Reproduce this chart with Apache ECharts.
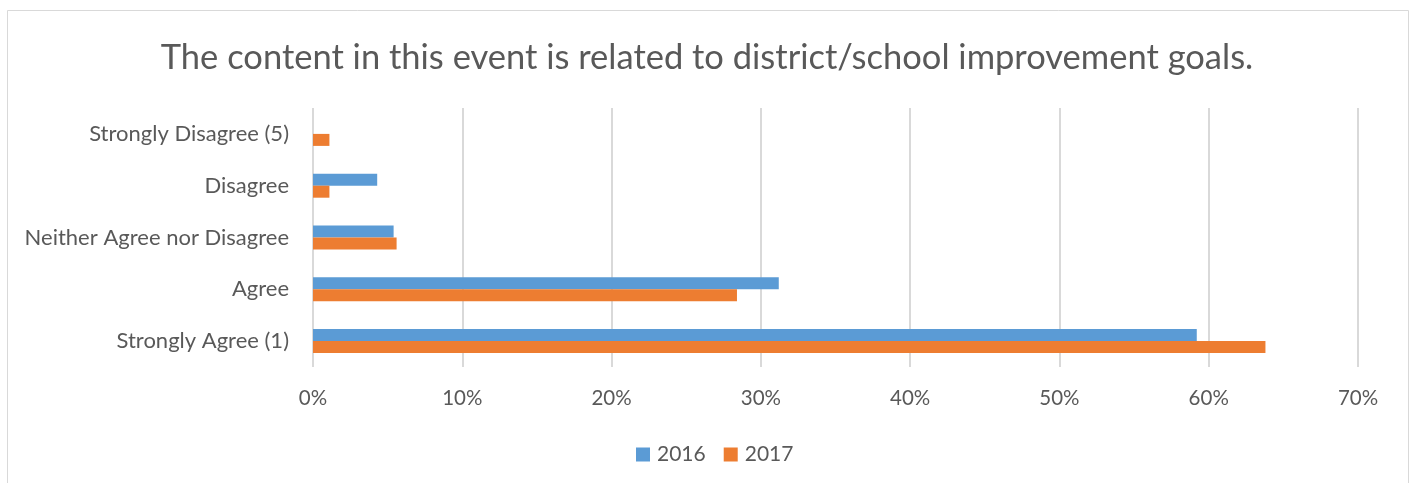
<!DOCTYPE html>
<html>
<head>
<meta charset="utf-8">
<title>District/school improvement goals</title>
<script src="https://cdn.jsdelivr.net/npm/echarts@6/dist/echarts.min.js"></script>
<style>
  html, body { margin: 0; padding: 0; background: #fff; }
  #chart { width: 1414px; height: 483px; }
</style>
</head>
<body>
<div id="chart"></div>
<script>
// categories bottom -> top (category axis runs upward)
const categories = ['Strongly Agree (1)', 'Agree', 'Neither Agree nor Disagree', 'Disagree', 'Strongly Disagree (5)']
const values2016 = [59.2, 31.2, 5.4, 4.3, 0]
const values2017 = [63.8, 28.4, 5.6, 1.1, 1.1]
const xTicks = [0, 10, 20, 30, 40, 50, 60, 70]

const textColor = '#595959'
const fontFamily = 'Lato, "Open Sans", sans-serif'

const chart = echarts.init(document.getElementById('chart'))

const option = {
  backgroundColor: '#fff',
  animation: false,
  textStyle: { fontFamily: fontFamily, color: textColor },
  title: {
    text: 'The content in this event is related to district/school improvement goals.',
    left: 'center',
    top: 35,
    textStyle: { fontFamily: fontFamily, fontSize: 34.5, fontWeight: 'normal', color: textColor }
  },
  graphic: [{
    type: 'rect',
    shape: { x: 7.5, y: 10.5, width: 1401, height: 490 },
    style: { fill: null, stroke: '#d9d9d9', lineWidth: 1 },
    silent: true
  }],
  legend: {
    data: ['2016', '2017'],
    left: 636,
    top: 444,
    padding: 0,
    itemWidth: 14,
    itemHeight: 14,
    itemGap: 18,
    icon: 'rect',
    textStyle: { fontFamily: fontFamily, fontSize: 21, color: textColor, padding: [0, 0, 0, 2] }
  },
  grid: {
    left: 313,
    right: 56,
    top: 108,
    bottom: 116,
    containLabel: false
  },
  xAxis: {
    type: 'value',
    min: xTicks[0],
    max: xTicks[xTicks.length - 1],
    interval: 10,
    axisLine: { show: false },
    axisTick: { show: false },
    axisLabel: {
      formatter: '{value}%',
      fontFamily: fontFamily,
      fontSize: 20.5,
      color: textColor,
      margin: 21
    },
    splitLine: { lineStyle: { color: '#d9d9d9', width: 2 } }
  },
  yAxis: {
    type: 'category',
    data: categories,
    axisLine: { show: false },
    axisTick: { show: false },
    axisLabel: {
      fontFamily: fontFamily,
      fontSize: 22,
      color: textColor,
      margin: 24
    }
  },
  series: [
    {
      name: '2016',
      type: 'bar',
      data: values2016,
      barWidth: 12,
      barGap: '0%',
      itemStyle: { color: '#5b9bd5' }
    },
    {
      name: '2017',
      type: 'bar',
      data: values2017,
      barWidth: 12,
      barGap: '0%',
      itemStyle: { color: '#ed7d31' }
    }
  ]
}

chart.setOption(option)
</script>
</body>
</html>
